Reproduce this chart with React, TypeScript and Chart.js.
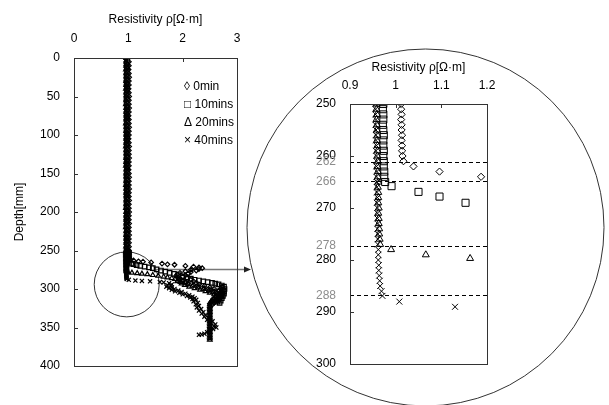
import React, { useEffect, useRef } from 'react';
import { Chart, registerables } from 'chart.js';

Chart.register(...registerables);

const FONT = '"Liberation Sans", Arial, Helvetica, sans-serif';

// ---------- tick labels / categories ----------
const xTicksMain = [0, 1, 2, 3];
const yTicksMain = [0, 50, 100, 150, 200, 250, 300, 350, 400];
const xTicksInset = [0.9, 1.0, 1.1, 1.2];
const yTicksInset = [250, 260, 270, 280, 290, 300];
const markDepths = [261.1, 264.9, 277.3, 286.8];
const markLabels = ['262', '266', '278', '288'];
const seriesNames = ['0min', '10mins', '20mins', '40mins'];
const legendSymbols = ['◊', '□', 'Δ', '×'];

// ---------- series values (depth in mm, resistivity in Ω·m) ----------
const depthUpperA = [0, 5, 10, 15, 20, 25, 30, 35, 40, 45, 50, 55, 60, 65, 70, 75, 80, 85, 90, 95, 100, 105, 110, 115, 120, 125, 130, 135, 140, 145, 150, 155, 160, 165, 170, 175, 180, 185, 190, 195, 200, 205, 210, 215, 220, 225, 230, 235, 240, 245];
const depthUpperB = [2.5, 7.5, 12.5, 17.5, 22.5, 27.5, 32.5, 37.5, 42.5, 47.5, 52.5, 57.5, 62.5, 67.5, 72.5, 77.5, 82.5, 87.5, 92.5, 97.5, 102.5, 107.5, 112.5, 117.5, 122.5, 127.5, 132.5, 137.5, 142.5, 147.5, 152.5, 157.5, 162.5, 167.5, 172.5, 177.5, 182.5, 187.5, 192.5, 197.5, 202.5, 207.5, 212.5, 217.5, 222.5, 227.5, 232.5, 237.5, 242.5, 247.5];

const rho0Upper = [1.005, 1.01, 1.01, 1.005, 1.01, 1.015, 1.01, 1.01, 1.005, 1.01, 1.015, 1.01, 1.01, 1.015, 1.01, 1.005, 1.01, 1.01, 1.015, 1.01, 1.01, 1.005, 1.01, 1.015, 1.01, 1.01, 1.015, 1.01, 1.01, 1.005, 1.01, 1.015, 1.01, 1.01, 1.015, 1.01, 1.01, 1.015, 1.01, 1.01, 1.015, 1.01, 1.01, 1.015, 1.01, 1.01, 1.015, 1.01, 1.012, 1.012];
const rho10Upper = [0.975, 0.97, 0.975, 0.975, 0.97, 0.975, 0.97, 0.975, 0.975, 0.97, 0.975, 0.97, 0.975, 0.975, 0.97, 0.975, 0.975, 0.97, 0.975, 0.97, 0.975, 0.975, 0.97, 0.975, 0.97, 0.975, 0.975, 0.97, 0.975, 0.975, 0.97, 0.975, 0.975, 0.97, 0.975, 0.97, 0.975, 0.975, 0.97, 0.975, 0.975, 0.97, 0.975, 0.97, 0.975, 0.975, 0.97, 0.975, 0.973, 0.973];
const rho20Upper = [0.96, 0.965, 0.96, 0.955, 0.96, 0.965, 0.96, 0.96, 0.955, 0.96, 0.965, 0.96, 0.955, 0.96, 0.96, 0.965, 0.96, 0.955, 0.96, 0.96, 0.965, 0.96, 0.96, 0.955, 0.96, 0.965, 0.96, 0.96, 0.955, 0.96, 0.96, 0.965, 0.96, 0.955, 0.96, 0.96, 0.965, 0.96, 0.96, 0.955, 0.96, 0.965, 0.96, 0.96, 0.955, 0.96, 0.96, 0.965, 0.96, 0.958];
const rho40Upper = [0.955, 0.95, 0.955, 0.96, 0.955, 0.95, 0.955, 0.955, 0.96, 0.955, 0.95, 0.955, 0.96, 0.955, 0.955, 0.95, 0.955, 0.96, 0.955, 0.955, 0.95, 0.955, 0.955, 0.96, 0.955, 0.95, 0.955, 0.955, 0.96, 0.955, 0.955, 0.95, 0.955, 0.96, 0.955, 0.955, 0.95, 0.955, 0.955, 0.96, 0.955, 0.95, 0.955, 0.955, 0.96, 0.955, 0.955, 0.95, 0.955, 0.956];

const depth0Lower = [250, 251, 252, 253, 254, 255, 256, 257, 258, 259, 260, 261, 262, 263, 264, 264.5, 265.5, 267, 268, 268.5, 270, 271, 272, 273,
  274, 275, 276, 277, 278, 279, 280, 281, 282, 283, 284, 285, 286, 287, 288, 289, 290, 291, 292, 293, 294, 295, 296, 297, 298, 299, 300, 301, 302, 303, 304, 305, 306, 307, 308, 309, 310, 311, 312, 313, 314, 315, 316, 317, 318, 319, 320];
const rho0Lower = [1.012, 1.012, 1.013, 1.012, 1.013, 1.013, 1.014, 1.013, 1.014, 1.014, 1.015, 1.017, 1.039, 1.096, 1.187, 1.27, 1.42, 1.62, 1.72, 1.85, 2.05, 2.2, 2.3, 2.36,
  2.3, 2.15, 2.25, 2.05, 2.15, 1.95, 2.1, 1.9, 2.05, 1.88, 2.0, 1.92, 2.08, 1.95, 2.15, 2.0, 2.2, 2.05, 2.25, 2.1, 2.3, 2.2, 2.4, 2.3, 2.5, 2.4, 2.58, 2.5, 2.66, 2.58, 2.7, 2.64, 2.74, 2.66, 2.72, 2.62, 2.7, 2.6, 2.68, 2.56, 2.64, 2.54, 2.6, 2.52, 2.58, 2.5, 2.55];

const depth10Lower = [250, 251, 252, 253, 254, 255, 256, 257, 258, 259, 260, 261, 262, 263, 264, 265, 265.8, 266.9, 267.8, 269,
  270, 271, 272, 273, 274.5, 276, 277.5, 279, 280.5, 282, 283.5, 285, 286.5, 288, 289, 290, 291, 292, 293, 294, 295.5, 297, 298.5, 300, 301.5, 303, 304.5, 306, 307.5, 309, 310.5, 312, 313.5, 315, 316.5, 318];
const rho10Lower = [0.973, 0.972, 0.973, 0.973, 0.972, 0.973, 0.974, 0.973, 0.973, 0.974, 0.973, 0.974, 0.974, 0.975, 0.975, 0.977, 0.991, 1.05, 1.096, 1.153,
  1.22, 1.3, 1.38, 1.45, 1.52, 1.6, 1.68, 1.76, 1.84, 1.92, 2.0, 2.08, 2.15, 2.22, 2.3, 2.38, 2.46, 2.54, 2.6, 2.66, 2.72, 2.76, 2.72, 2.77, 2.74, 2.76, 2.72, 2.76, 2.7, 2.74, 2.68, 2.72, 2.66, 2.7, 2.64, 2.68];

const depth20Lower = [250, 251, 252, 253, 254, 255, 256, 257, 258, 259, 260, 261, 262, 263, 264, 265, 266, 267, 268, 269, 270, 271, 272, 273, 274, 275, 276, 277, 278, 279, 279.7,
  280.3, 281, 282, 283, 284, 285, 286, 287, 288, 289, 290, 291, 292, 293, 294, 295, 296, 297, 298, 299, 300, 301, 302, 303, 304, 305, 306, 307, 308, 309, 310,
  312, 314, 316, 318, 320, 322, 324, 326, 328, 330, 332, 334, 336, 338, 340, 342, 344, 346, 348, 350, 352, 354, 356, 358, 360, 362, 364, 366];
const rho20Lower = [0.958, 0.958, 0.959, 0.958, 0.959, 0.959, 0.96, 0.959, 0.96, 0.96, 0.96, 0.961, 0.96, 0.961, 0.961, 0.962, 0.961, 0.962, 0.962, 0.962, 0.963, 0.962, 0.963, 0.963, 0.964, 0.964, 0.965, 0.966, 0.99, 1.066, 1.163,
  1.25, 1.35, 1.45, 1.55, 1.65, 1.72, 1.8, 1.86, 1.92, 1.98, 1.9, 1.96, 2.05, 1.98, 2.1, 2.04, 2.18, 2.12, 2.28, 2.22, 2.38, 2.32, 2.48, 2.42, 2.56, 2.5, 2.62, 2.58, 2.68, 2.62, 2.72,
  2.66, 2.6, 2.55, 2.52, 2.5, 2.5, 2.5, 2.5, 2.5, 2.5, 2.5, 2.5, 2.5, 2.5, 2.5, 2.5, 2.5, 2.5, 2.5, 2.5, 2.5, 2.5, 2.5, 2.5, 2.5, 2.5, 2.5, 2.5];

const depth40Lower = [250, 251, 252, 253, 254, 255, 256, 257, 258, 259, 260, 261, 262, 263, 264, 265, 266, 267, 268, 269, 270, 271, 272, 273, 274, 275, 276, 277, 278, 279, 280, 281, 282, 283, 284, 285,
  286, 286.9, 288, 289, 289.5, 290, 291, 291.5, 292.5,
  294, 295, 296, 297, 298, 299, 300, 301, 302, 303, 304, 305, 306, 307, 308, 309, 310, 311, 312, 313, 314,
  316, 318, 320, 322, 324, 326, 328, 330, 332, 334, 336, 338, 340, 342, 344, 346, 348, 350, 352, 354, 356, 358, 359, 359.5];
const rho40Lower = [0.956, 0.956, 0.956, 0.957, 0.956, 0.957, 0.957, 0.957, 0.958, 0.957, 0.958, 0.958, 0.958, 0.959, 0.958, 0.959, 0.959, 0.959, 0.96, 0.959, 0.96, 0.96, 0.96, 0.961, 0.96, 0.961, 0.961, 0.961, 0.962, 0.962, 0.962, 0.963, 0.963, 0.964, 0.965, 0.966,
  0.969, 0.971, 1.008, 1.13, 1.25, 1.4, 1.58, 1.65, 1.75,
  1.8, 1.72, 1.78, 1.7, 1.8, 1.75, 1.85, 1.8, 1.92, 1.86, 1.98, 1.94, 2.05, 2.0, 2.12, 2.08, 2.18, 2.14, 2.22, 2.18, 2.25,
  2.2, 2.28, 2.24, 2.3, 2.26, 2.34, 2.3, 2.38, 2.35, 2.42, 2.4, 2.48, 2.45, 2.55, 2.52, 2.6, 2.58, 2.62, 2.56, 2.5, 2.45, 2.4, 2.35, 2.3];

// ---------- styles ----------
const pointStyles = ['rectRot', 'rect', 'triangle', 'crossRot'];
const mainRadius = [2.3, 3.2, 2.7, 2.9];
const insetRadius = [3.6, 5, 4, 4.2];

// annotation geometry (canvas px / data units)
const smallCircle = { rho: 0.97, depth: 294, r: 32.5 };
const bigCircle = { cx: 425.5, cy: 227.5, r: 178.5 };
const arrow = { depth: 273.5, x0: 155, x1: 251 };

type Pt = { x: number; y: number };
const toPoints = (depths: number[], rhos: number[]): Pt[] => depths.map((d, i) => ({ x: rhos[i], y: d }));

const series: Pt[][] = [
  [...toPoints(depthUpperA, rho0Upper), ...toPoints(depth0Lower, rho0Lower)],
  [...toPoints(depthUpperB, rho10Upper), ...toPoints(depth10Lower, rho10Lower)],
  [...toPoints(depthUpperA, rho20Upper), ...toPoints(depth20Lower, rho20Lower)],
  [...toPoints(depthUpperB, rho40Upper), ...toPoints(depth40Lower, rho40Lower)],
];

function buildDatasets(radii: number[], bw: number) {
  return series.map((data, i) => ({
    label: seriesNames[i],
    data,
    pointStyle: pointStyles[i],
    pointRadius: radii[i],
    pointHoverRadius: radii[i],
    pointBorderColor: '#000',
    pointBackgroundColor: 'rgba(0,0,0,0)',
    pointBorderWidth: bw,
    showLine: false,
  }));
}

function drawFrameAndTicks(chart: any, xTicks: number[], yTicks: number[]) {
  const { ctx, chartArea } = chart;
  const { left, top, right, bottom } = chartArea;
  const sx = chart.scales.x;
  const sy = chart.scales.y;
  ctx.save();
  ctx.strokeStyle = '#333';
  ctx.lineWidth = 1;
  ctx.setLineDash([]);
  ctx.strokeRect(Math.round(left) + 0.5, Math.round(top) + 0.5, Math.round(right - left), Math.round(bottom - top));
  ctx.beginPath();
  xTicks.forEach((v) => {
    const px = Math.round(sx.getPixelForValue(v)) + 0.5;
    ctx.moveTo(px, top);
    ctx.lineTo(px, top + 4);
  });
  yTicks.forEach((v) => {
    const py = Math.round(sy.getPixelForValue(v)) + 0.5;
    ctx.moveTo(left, py);
    ctx.lineTo(left + 4, py);
  });
  ctx.stroke();
  ctx.restore();
}

const mainDecor = {
  id: 'mainDecor',
  beforeDatasetsDraw(chart: any) {
    const { ctx } = chart;
    const sx = chart.scales.x;
    const sy = chart.scales.y;
    ctx.save();
    ctx.strokeStyle = '#333';
    ctx.lineWidth = 1;
    ctx.beginPath();
    ctx.arc(sx.getPixelForValue(smallCircle.rho), sy.getPixelForValue(smallCircle.depth), smallCircle.r, 0, Math.PI * 2);
    ctx.stroke();
    ctx.beginPath();
    ctx.arc(bigCircle.cx, bigCircle.cy, bigCircle.r, 0, Math.PI * 2);
    ctx.stroke();
    const ay = Math.round(sy.getPixelForValue(arrow.depth)) + 0.5;
    ctx.strokeStyle = '#777';
    ctx.lineWidth = 1.5;
    ctx.beginPath();
    ctx.moveTo(arrow.x0, ay);
    ctx.lineTo(arrow.x1 - 5, ay);
    ctx.stroke();
    ctx.fillStyle = '#222';
    ctx.beginPath();
    ctx.moveTo(arrow.x1, ay);
    ctx.lineTo(arrow.x1 - 7, ay - 3);
    ctx.lineTo(arrow.x1 - 7, ay + 3);
    ctx.closePath();
    ctx.fill();
    ctx.restore();
  },
  afterDraw(chart: any) {
    drawFrameAndTicks(chart, xTicksMain, yTicksMain);
    const { ctx, chartArea } = chart;
    ctx.save();
    ctx.font = `12px ${FONT}`;
    ctx.fillStyle = '#000';
    ctx.textAlign = 'left';
    ctx.textBaseline = 'middle';
    seriesNames.forEach((n, i) => {
      ctx.fillText(`${legendSymbols[i]} ${n}`, chartArea.right - 53, chartArea.top + 29 + i * 18);
    });
    ctx.restore();
  },
};

const insetDecor = {
  id: 'insetDecor',
  afterDraw(chart: any) {
    const { ctx, chartArea } = chart;
    const sy = chart.scales.y;
    ctx.save();
    ctx.strokeStyle = '#000';
    ctx.lineWidth = 1;
    ctx.setLineDash([4, 3]);
    markDepths.forEach((d) => {
      const py = Math.round(sy.getPixelForValue(d)) + 0.5;
      ctx.beginPath();
      ctx.moveTo(chartArea.left, py);
      ctx.lineTo(chartArea.right, py);
      ctx.stroke();
    });
    ctx.setLineDash([]);
    ctx.font = `12px ${FONT}`;
    ctx.fillStyle = '#8c8c8c';
    ctx.textAlign = 'right';
    ctx.textBaseline = 'middle';
    markDepths.forEach((d, i) => {
      ctx.fillText(markLabels[i], chartArea.left - 14, sy.getPixelForValue(d));
    });
    ctx.restore();
    drawFrameAndTicks(chart, xTicksInset, yTicksInset);
  },
};

const tickFont = { family: FONT, size: 12 };

function axis(opts: any) {
  return {
    type: 'linear',
    grid: { display: false, drawTicks: false },
    border: { display: false },
    ...opts,
  };
}

export default function App() {
  const mainRef = useRef<HTMLCanvasElement>(null);
  const insetRef = useRef<HTMLCanvasElement>(null);

  useEffect(() => {
    Chart.defaults.font.family = FONT;
    const main = new Chart(mainRef.current as HTMLCanvasElement, {
      type: 'scatter',
      data: { datasets: buildDatasets(mainRadius, 1.2) as any },
      options: {
        responsive: false,
        animation: false,
        devicePixelRatio: 1,
        layout: { padding: { left: 0, top: 0, right: 372, bottom: 39 } },
        plugins: { legend: { display: false }, tooltip: { enabled: false } },
        scales: {
          x: axis({
            position: 'top',
            min: 0,
            max: 3,
            afterBuildTicks: (s: any) => { s.ticks = xTicksMain.map((v) => ({ value: v })); },
            afterFit: (s: any) => { s.height = 58; },
            ticks: { padding: 12, color: '#000', font: tickFont, maxRotation: 0, callback: (v: any) => String(v) },
            title: { display: true, text: 'Resistivity ρ[Ω·m]', color: '#000', font: tickFont, padding: { top: 12, bottom: 0 } },
          }),
          y: axis({
            reverse: true,
            min: 0,
            max: 400,
            afterBuildTicks: (s: any) => { s.ticks = yTicksMain.map((v) => ({ value: v })); },
            afterFit: (s: any) => { s.width = 74; },
            ticks: { padding: 14, color: '#000', font: tickFont, callback: (v: any) => String(v) },
            title: { display: true, text: 'Depth[mm]', color: '#000', font: tickFont, padding: { top: 12, bottom: 0 } },
          }),
        },
      } as any,
      plugins: [mainDecor],
    });

    const inset = new Chart(insetRef.current as HTMLCanvasElement, {
      type: 'scatter',
      data: { datasets: buildDatasets(insetRadius, 1) as any },
      options: {
        responsive: false,
        animation: false,
        devicePixelRatio: 1,
        layout: { padding: { left: 0, top: 0, right: 122, bottom: 41 } },
        plugins: { legend: { display: false }, tooltip: { enabled: false } },
        scales: {
          x: axis({
            position: 'top',
            min: 0.9,
            max: 1.2,
            afterBuildTicks: (s: any) => { s.ticks = xTicksInset.map((v) => ({ value: v })); },
            afterFit: (s: any) => { s.height = 104; },
            ticks: { padding: 11, color: '#000', font: tickFont, maxRotation: 0, callback: (v: any) => String(Math.round(v * 10) / 10) },
            title: { display: true, text: 'Resistivity ρ[Ω·m]', color: '#000', font: tickFont, padding: { top: 60, bottom: 0 } },
          }),
          y: axis({
            reverse: true,
            min: 250,
            max: 300,
            afterBuildTicks: (s: any) => { s.ticks = yTicksInset.map((v) => ({ value: v })); },
            afterFit: (s: any) => { s.width = 350; },
            ticks: { padding: 14, color: '#000', font: tickFont, callback: (v: any) => String(v) },
          }),
        },
      } as any,
      plugins: [insetDecor],
    });

    return () => {
      main.destroy();
      inset.destroy();
    };
  }, []);

  return (
    <div style={{ position: 'fixed', left: 0, top: 0, width: 609, height: 405, background: '#fff', overflow: 'hidden' }}>
      <canvas ref={mainRef} width={609} height={405} style={{ position: 'absolute', left: 0, top: 0 }} />
      <canvas ref={insetRef} width={609} height={405} style={{ position: 'absolute', left: 0, top: 0, pointerEvents: 'none' }} />
    </div>
  );
}
